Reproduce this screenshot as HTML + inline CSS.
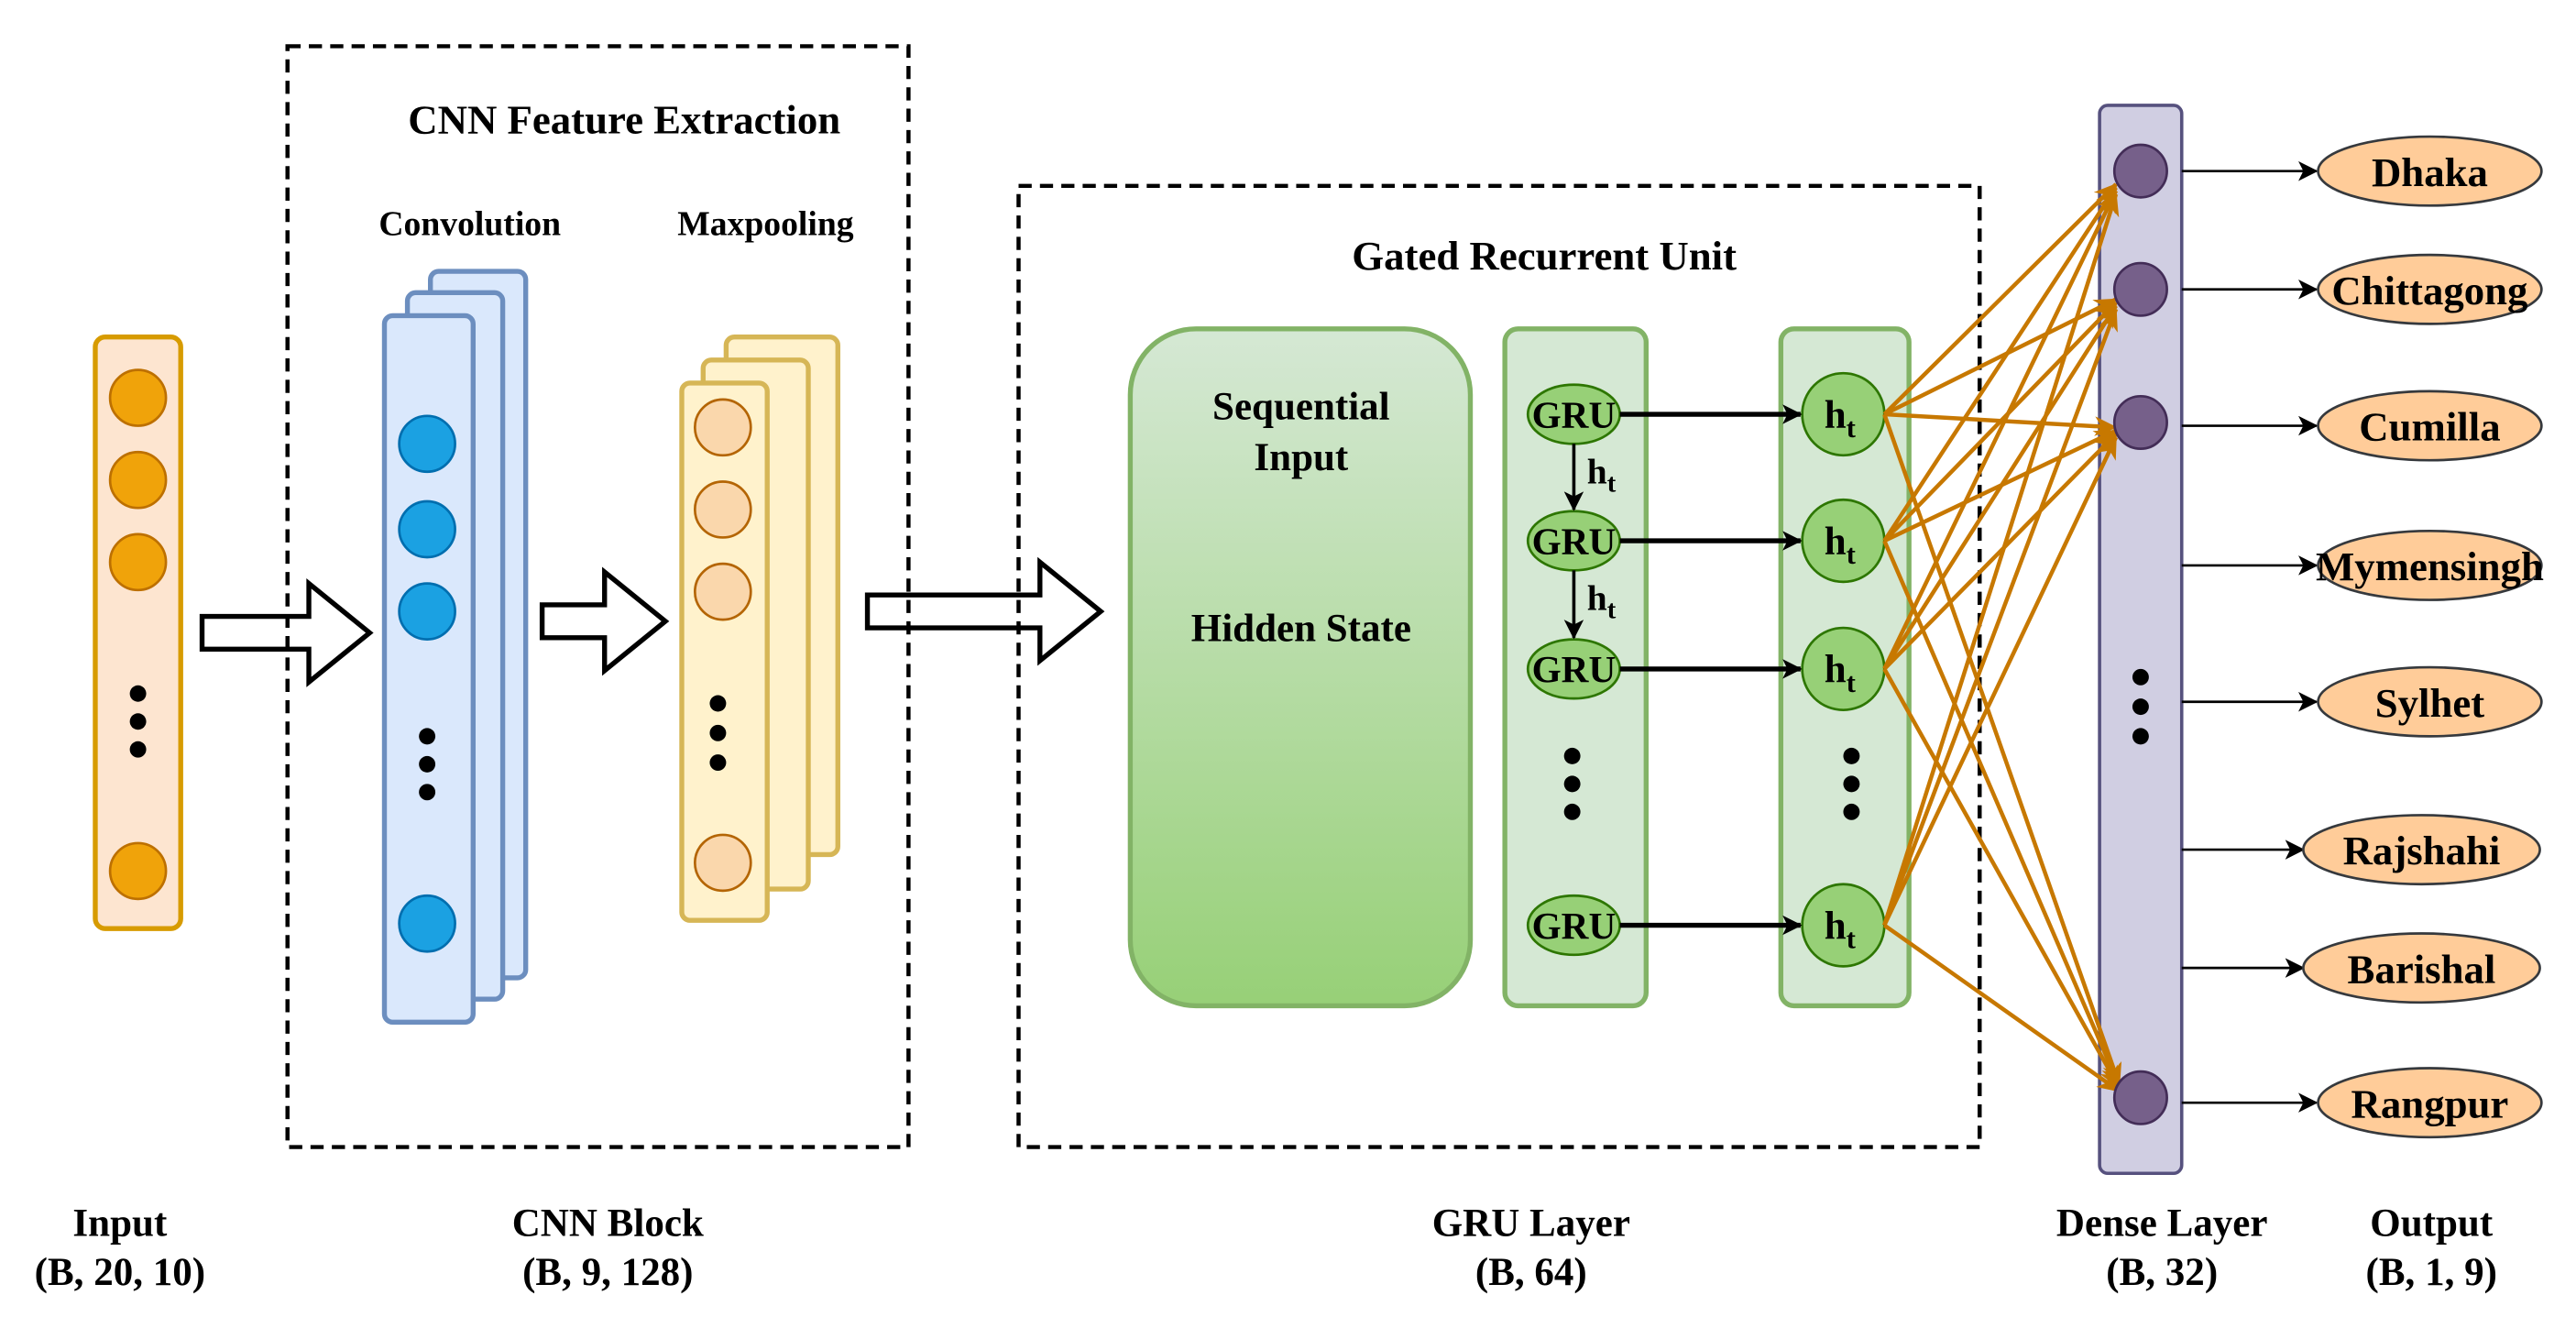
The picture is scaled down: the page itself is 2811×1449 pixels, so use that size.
<!DOCTYPE html>
<html><head><meta charset="utf-8"><style>
html,body{margin:0;padding:0;background:#fff;}
svg{display:block;}
text{font-family:"Liberation Serif",serif;font-weight:bold;fill:#000;}
</style></head><body>
<svg width="2811" height="1449" viewBox="0 0 1568 808" xmlns="http://www.w3.org/2000/svg">
<defs>
<linearGradient id="g" x1="0" y1="0" x2="0" y2="1"><stop offset="0" stop-color="#d5e8d4"/><stop offset="1" stop-color="#97d077"/></linearGradient>
<marker id="ab" markerWidth="12" markerHeight="12" refX="11" refY="6" orient="auto" markerUnits="userSpaceOnUse"><path d="M0,0 L12,6 L0,12 L3,6z" fill="#000"/></marker>
<marker id="ao" markerWidth="14" markerHeight="12" refX="13" refY="6" orient="auto" markerUnits="userSpaceOnUse"><path d="M0,0 L14,6 L0,12 L4,6z" fill="#c77800"/></marker>
</defs>
<rect x="58" y="205" width="52" height="360" rx="6" fill="#fde5d0" stroke="#d79b00" stroke-width="3"/>
<g fill="#f0a30a" stroke="#bd7000" stroke-width="1.5">
<circle cx="84" cy="242" r="17"/><circle cx="84" cy="292" r="17"/><circle cx="84" cy="342" r="17"/><circle cx="84" cy="530" r="17"/></g>
<g fill="#000"><circle cx="84" cy="422" r="5"/><circle cx="84" cy="439" r="5"/><circle cx="84" cy="456" r="5"/></g>
<path d="M123,375 H188 V355 L225,385 L188,415 V395 H123 Z" fill="#fff" stroke="#000" stroke-width="3"/>
<path d="M330,368 H368 V348 L405,378 L368,408 V388 H330 Z" fill="#fff" stroke="#000" stroke-width="3"/>
<path d="M528,362 H633 V342 L670,372 L633,402 V382 H528 Z" fill="#fff" stroke="#000" stroke-width="3"/>
<rect x="175" y="28" width="378" height="670" fill="none" stroke="#000" stroke-width="2.5" stroke-dasharray="8,5"/>
<text x="380" y="81" font-size="25" text-anchor="middle">CNN Feature Extraction</text>
<text x="286" y="143" font-size="21" text-anchor="middle">Convolution</text>
<text x="466" y="143" font-size="21" text-anchor="middle">Maxpooling</text>
<g fill="#dae8fc" stroke="#6c8ebf" stroke-width="3">
<rect x="262" y="165" width="58" height="430" rx="5"/><rect x="248" y="178" width="58" height="430" rx="5"/><rect x="234" y="192" width="54" height="430" rx="5"/></g>
<g fill="#1ba1e2" stroke="#006eaf" stroke-width="1.5">
<circle cx="260" cy="270" r="17"/><circle cx="260" cy="322" r="17"/><circle cx="260" cy="372" r="17"/><circle cx="260" cy="562" r="17"/></g>
<g fill="#000"><circle cx="260" cy="448" r="5"/><circle cx="260" cy="465" r="5"/><circle cx="260" cy="482" r="5"/></g>
<g fill="#fff2cc" stroke="#d6b656" stroke-width="3">
<rect x="442" y="205" width="68" height="315" rx="5"/><rect x="428" y="219" width="64" height="322" rx="5"/><rect x="415" y="233" width="52" height="327" rx="5"/></g>
<g fill="#fad7ac" stroke="#b46504" stroke-width="1.5">
<circle cx="440" cy="260" r="17"/><circle cx="440" cy="310" r="17"/><circle cx="440" cy="360" r="17"/><circle cx="440" cy="525" r="17"/></g>
<g fill="#000"><circle cx="437" cy="428" r="5"/><circle cx="437" cy="446" r="5"/><circle cx="437" cy="464" r="5"/></g>
<rect x="620" y="113" width="585" height="585" fill="none" stroke="#000" stroke-width="2.5" stroke-dasharray="8,5"/>
<text x="940" y="164" font-size="25" text-anchor="middle">Gated Recurrent Unit</text>
<rect x="688" y="200" width="207" height="412" rx="40" fill="url(#g)" stroke="#82b366" stroke-width="3"/>
<text x="792" y="255" font-size="24" text-anchor="middle">Sequential</text>
<text x="792" y="286" font-size="24" text-anchor="middle">Input</text>
<text x="792" y="390" font-size="24" text-anchor="middle">Hidden State</text>
<rect x="916" y="200" width="86" height="412" rx="8" fill="#d5e8d4" stroke="#82b366" stroke-width="3"/>
<rect x="1084" y="200" width="78" height="412" rx="8" fill="#d5e8d4" stroke="#82b366" stroke-width="3"/>
<g fill="#97d077" stroke="#2d7600" stroke-width="1.5">
<ellipse cx="958" cy="252" rx="28" ry="18"/><ellipse cx="958" cy="329" rx="28" ry="18"/><ellipse cx="958" cy="407" rx="28" ry="18"/><ellipse cx="958" cy="563" rx="28" ry="18"/>
<circle cx="1122" cy="252" r="25"/><circle cx="1122" cy="329" r="25"/><circle cx="1122" cy="407" r="25"/><circle cx="1122" cy="563" r="25"/></g>
<g font-size="23" text-anchor="middle">
<text x="958" y="260">GRU</text><text x="958" y="337">GRU</text><text x="958" y="415">GRU</text><text x="958" y="571">GRU</text></g>
<g font-size="24" text-anchor="middle">
<text x="1120" y="260">h<tspan font-size="17" dy="6">t</tspan></text>
<text x="1120" y="337">h<tspan font-size="17" dy="6">t</tspan></text>
<text x="1120" y="415">h<tspan font-size="17" dy="6">t</tspan></text>
<text x="1120" y="571">h<tspan font-size="17" dy="6">t</tspan></text></g>
<g stroke="#000" stroke-width="2" marker-end="url(#ab)">
<line x1="958" y1="270" x2="958" y2="310"/><line x1="958" y1="347" x2="958" y2="388"/></g>
<g font-size="22"><text x="966" y="294">h<tspan font-size="16" dy="5">t</tspan></text><text x="966" y="371">h<tspan font-size="16" dy="5">t</tspan></text></g>
<g stroke="#000" stroke-width="3" marker-end="url(#ab)">
<line x1="986" y1="252" x2="1096" y2="252"/><line x1="986" y1="329" x2="1096" y2="329"/><line x1="986" y1="407" x2="1096" y2="407"/><line x1="986" y1="563" x2="1096" y2="563"/></g>
<g fill="#000"><circle cx="957" cy="460" r="5"/><circle cx="957" cy="477" r="5"/><circle cx="957" cy="494" r="5"/>
<circle cx="1127" cy="460" r="5"/><circle cx="1127" cy="477" r="5"/><circle cx="1127" cy="494" r="5"/></g>
<rect x="1278" y="64" width="50" height="650" rx="5" fill="#d0cee2" stroke="#56517e" stroke-width="2"/>
<g stroke="#c77800" stroke-width="2.5" marker-end="url(#ao)">
<line x1="1147" y1="252" x2="1288" y2="112"/><line x1="1147" y1="252" x2="1288" y2="182"/><line x1="1147" y1="252" x2="1288" y2="260"/><line x1="1147" y1="252" x2="1290" y2="660"/>
<line x1="1147" y1="329" x2="1288" y2="114"/><line x1="1147" y1="329" x2="1288" y2="184"/><line x1="1147" y1="329" x2="1288" y2="262"/><line x1="1147" y1="329" x2="1290" y2="661"/>
<line x1="1147" y1="407" x2="1288" y2="116"/><line x1="1147" y1="407" x2="1288" y2="186"/><line x1="1147" y1="407" x2="1288" y2="264"/><line x1="1147" y1="407" x2="1290" y2="662"/>
<line x1="1147" y1="563" x2="1288" y2="118"/><line x1="1147" y1="563" x2="1288" y2="188"/><line x1="1147" y1="563" x2="1288" y2="266"/><line x1="1147" y1="563" x2="1290" y2="664"/></g>
<g fill="#76608a" stroke="#432d57" stroke-width="1.5">
<circle cx="1303" cy="104" r="16"/><circle cx="1303" cy="176" r="16"/><circle cx="1303" cy="257" r="16"/><circle cx="1303" cy="668" r="16"/></g>
<g fill="#000"><circle cx="1303" cy="412" r="5"/><circle cx="1303" cy="430" r="5"/><circle cx="1303" cy="448" r="5"/></g>
<g stroke="#000" stroke-width="1.5" marker-end="url(#ab)">
<line x1="1328" y1="104" x2="1410" y2="104"/><line x1="1328" y1="176" x2="1410" y2="176"/><line x1="1328" y1="259" x2="1410" y2="259"/><line x1="1328" y1="344" x2="1410" y2="344"/>
<line x1="1328" y1="427" x2="1410" y2="427"/><line x1="1328" y1="517" x2="1402" y2="517"/><line x1="1328" y1="589" x2="1402" y2="589"/><line x1="1328" y1="671" x2="1410" y2="671"/></g>
<g fill="#ffcc99" stroke="#36393d" stroke-width="1.5">
<ellipse cx="1479" cy="104" rx="68" ry="21"/><ellipse cx="1479" cy="176" rx="68" ry="21"/><ellipse cx="1479" cy="259" rx="68" ry="21"/><ellipse cx="1479" cy="344" rx="68" ry="21"/>
<ellipse cx="1479" cy="427" rx="68" ry="21"/><ellipse cx="1474" cy="517" rx="72" ry="21"/><ellipse cx="1474" cy="589" rx="72" ry="21"/><ellipse cx="1479" cy="671" rx="68" ry="21"/></g>
<g font-size="25" text-anchor="middle">
<text x="1479" y="113">Dhaka</text><text x="1479" y="185">Chittagong</text><text x="1479" y="268">Cumilla</text><text x="1479" y="353">Mymensingh</text>
<text x="1479" y="436">Sylhet</text><text x="1474" y="526">Rajshahi</text><text x="1474" y="598">Barishal</text><text x="1479" y="680">Rangpur</text></g>
<g font-size="24" text-anchor="middle">
<text x="73" y="752">Input</text><text x="73" y="782">(B, 20, 10)</text>
<text x="370" y="752">CNN Block</text><text x="370" y="782">(B, 9, 128)</text>
<text x="932" y="752">GRU Layer</text><text x="932" y="782">(B, 64)</text>
<text x="1316" y="752">Dense Layer</text><text x="1316" y="782">(B, 32)</text>
<text x="1480" y="752">Output</text><text x="1480" y="782">(B, 1, 9)</text></g>
</svg>
</body></html>
